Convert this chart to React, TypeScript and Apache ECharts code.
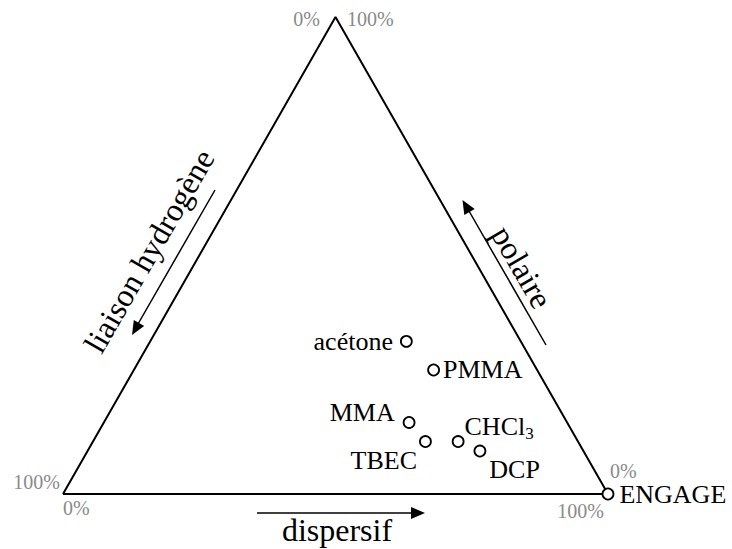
import React, { useEffect, useRef } from "react";
import * as echarts from "echarts";

// Teas fractions (%)
const solvents = ["acétone", "PMMA", "MMA", "TBEC", "CHCl3", "DCP", "ENGAGE"];
const dispersive = [47, 55, 56, 61, 67, 72, 100];
const polar = [32, 26, 15, 11, 11, 9, 0];
const hydrogen = [21, 19, 29, 28, 22, 19, 0];
const tickLabels = ["0%", "100%"];
const axisTitles = ["dispersif", "polaire", "liaison hydrogène"];

const FONT = '"Liberation Serif", "Times New Roman", serif';
const GRAY = "#8a8a8a";

const labelLayout: Record<string, any> = {
  "acétone": { position: "left", distance: 7, offset: [0, 0] },
  PMMA: { position: "right", distance: 3, offset: [0, 0] },
  MMA: { position: "left", distance: 8, offset: [0, -10] },
  TBEC: { position: "left", distance: 2, offset: [0, 19] },
  CHCl3: { position: "right", distance: 0, offset: [0, -15] },
  DCP: { position: "right", distance: 3, offset: [0, 18] },
  ENGAGE: { position: "right", distance: 5, offset: [0, 0] },
};

// ternary -> cartesian (x = fd + fp/2, y = fp)
function toXY(fd: number, fp: number, fh: number) {
  const s = fd + fp + fh;
  const d = fd / s;
  const p = fp / s;
  return [d + p / 2, p];
}

export default function App() {
  const ref = useRef<HTMLDivElement>(null);
  useEffect(() => {
    if (!ref.current) return;
    const chart = echarts.init(ref.current, null, { renderer: "svg" });

    const points = solvents.map((name, i) => {
      const lay = labelLayout[name];
      return {
        name,
        value: toXY(dispersive[i], polar[i], hydrogen[i]),
        label: {
          show: true,
          position: lay.position,
          distance: lay.distance,
          offset: lay.offset,
          formatter: name === "CHCl3" ? "CHCl{sub|3}" : name,
          color: "#000",
          opacity: 1,
          fontFamily: FONT,
          fontSize: 26,
          rich: {
            sub: { fontFamily: FONT, fontSize: 17, color: "#000", padding: [14, 0, 0, 0] },
          },
        },
      };
    });

    const pctText = (text: string, x: number, y: number, align: string) => ({
      type: "text",
      x,
      y,
      style: {
        text,
        fill: GRAY,
        font: `20px ${FONT}`,
        align,
        verticalAlign: "middle",
      },
    });

    const option: any = {
      animation: false,
      backgroundColor: "#fff",
      grid: { left: 63, right: 124, top: 17, bottom: 55, containLabel: false },
      xAxis: { type: "value", min: 0, max: 1, show: false },
      yAxis: { type: "value", min: 0, max: 1, show: false },
      series: [
        {
          type: "line",
          data: [toXY(0, 0, 100), toXY(100, 0, 0), toXY(0, 100, 0), toXY(0, 0, 100)],
          symbol: "none",
          lineStyle: { color: "#000", width: 2 },
          silent: true,
          z: 1,
        },
        {
          type: "scatter",
          data: points,
          symbol: "circle",
          symbolSize: 11,
          itemStyle: { color: "#fff", borderColor: "#000", borderWidth: 1.8, opacity: 1 },
          z: 3,
        },
      ],
      graphic: [
        pctText(tickLabels[0], 320, 19, "right"),
        pctText(tickLabels[1], 347, 19, "left"),
        pctText(tickLabels[1], 60, 482, "right"),
        pctText(tickLabels[0], 63, 508, "left"),
        pctText(tickLabels[0], 610, 471, "left"),
        pctText(tickLabels[1], 604, 511, "right"),
        // dispersif arrow
        { type: "line", shape: { x1: 257, y1: 513, x2: 413, y2: 513 }, style: { stroke: "#000", lineWidth: 1.5 } },
        { type: "polygon", shape: { points: [[425, 513], [411, 507], [411, 519]] }, style: { fill: "#000" } },
        {
          type: "text", x: 337, y: 530,
          style: { text: axisTitles[0], font: `32px ${FONT}`, fill: "#000", align: "center", verticalAlign: "middle" },
        },
        // polaire arrow (pointing up)
        { type: "line", shape: { x1: 546, y1: 345, x2: 469, y2: 211 }, style: { stroke: "#000", lineWidth: 1.5 } },
        { type: "polygon", shape: { points: [[462.5, 200], [464.3, 214.9], [474.7, 208.9]] }, style: { fill: "#000" } },
        {
          type: "text", x: 522, y: 267, rotation: -Math.PI / 3,
          style: { text: axisTitles[1], font: `32px ${FONT}`, fill: "#000", align: "center", verticalAlign: "middle" },
        },
        // liaison hydrogène arrow (pointing down)
        { type: "line", shape: { x1: 215, y1: 190, x2: 138, y2: 324 }, style: { stroke: "#000", lineWidth: 1.5 } },
        { type: "polygon", shape: { points: [[132, 335], [144.2, 325.9], [133.8, 319.9]] }, style: { fill: "#000" } },
        {
          type: "text", x: 149, y: 251, rotation: Math.PI / 3,
          style: { text: axisTitles[2], font: `32px ${FONT}`, fill: "#000", align: "center", verticalAlign: "middle" },
        },
      ],
    };
    chart.setOption(option);
    return () => chart.dispose();
  }, []);

  return (
    <div
      ref={ref}
      style={{ position: "fixed", left: 0, top: 0, width: 732, height: 549, background: "#fff" }}
    />
  );
}
